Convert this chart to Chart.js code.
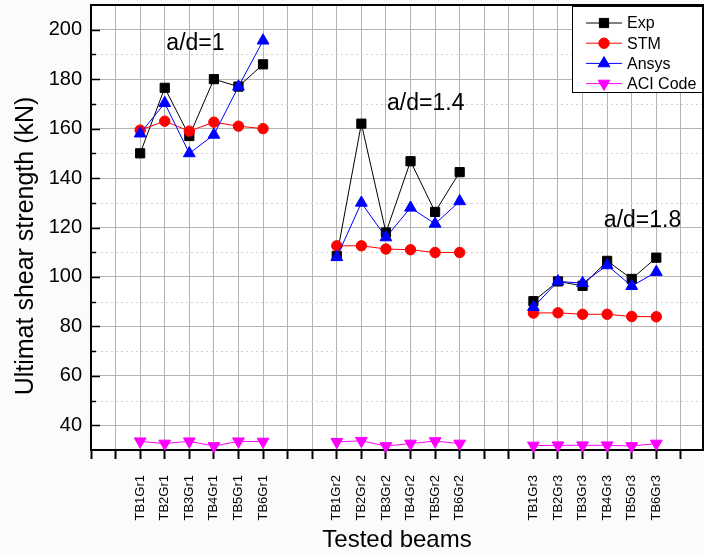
<!DOCTYPE html>
<html>
<head>
<meta charset="utf-8">
<script src="https://cdn.jsdelivr.net/npm/chart.js@4.4.0/dist/chart.umd.min.js"></script>
<style>
  html, body { margin: 0; padding: 0; background: #fbfbfb; }
  canvas { display: block; }
</style>
</head>
<body>
<canvas id="shearChart" width="704" height="556"></canvas>
<script>
// x slots: two empty positions before each group of six beams
const slots = [
    '', '', 'TB1Gr1', 'TB2Gr1', 'TB3Gr1', 'TB4Gr1', 'TB5Gr1', 'TB6Gr1',
    '', '', 'TB1Gr2', 'TB2Gr2', 'TB3Gr2', 'TB4Gr2', 'TB5Gr2', 'TB6Gr2',
    '', '', 'TB1Gr3', 'TB2Gr3', 'TB3Gr3', 'TB4Gr3', 'TB5Gr3', 'TB6Gr3', ''
];
const groups = [
    ['TB1Gr1', 'TB2Gr1', 'TB3Gr1', 'TB4Gr1', 'TB5Gr1', 'TB6Gr1'],
    ['TB1Gr2', 'TB2Gr2', 'TB3Gr2', 'TB4Gr2', 'TB5Gr2', 'TB6Gr2'],
    ['TB1Gr3', 'TB2Gr3', 'TB3Gr3', 'TB4Gr3', 'TB5Gr3', 'TB6Gr3']
];

// ultimate shear strength (kN), one value per beam in group order
const expValues   = [150, 176.5, 157, 180, 177, 186,   108.5, 162, 118, 146.8, 126.3, 142.4,   90.2, 98.2, 96.4, 106.5, 99.2, 107.8];
const stmValues   = [159.4, 163, 159, 162.6, 161, 160, 112.6, 112.6, 111.3, 111, 109.9, 109.9,  85.4, 85.5, 84.9, 84.9, 84, 83.9];
const ansysValues = [158, 170.3, 150, 157.5, 177, 195.6, 108, 130, 116, 128, 121.5, 130.6,    87.8, 98.2, 97.5, 104.7, 96.3, 102];
const aciValues   = [33.5, 32.6, 33.5, 31.6, 33.5, 33.4, 33.3, 33.7, 31.6, 32.6, 33.6, 32.6,    31.8, 31.9, 31.9, 31.9, 31.6, 32.6];

const yTicks = [40, 60, 80, 100, 120, 140, 160, 180, 200];
const groupNotes = ['a/d=1', 'a/d=1.4', 'a/d=1.8'];

const FONT = 'Arial, "Liberation Sans", sans-serif';
Chart.defaults.font.family = FONT;
Chart.defaults.color = '#000';

// turn a per-beam array into points, with a null between groups so lines break
function toPoints(values) {
    const pts = [];
    let k = 0;
    groups.forEach((g, gi) => {
        g.forEach(name => {
            pts.push({ x: slots.indexOf(name), y: values[k++] });
        });
        if (gi < groups.length - 1) pts.push({ x: slots.indexOf(g[g.length - 1]) + 1, y: null });
    });
    return pts;
}

function series(label, values, color, style, rotation, radius, order) {
    return {
        label: label,
        data: toPoints(values),
        borderColor: color,
        backgroundColor: color,
        borderWidth: 1,
        pointStyle: style,
        rotation: rotation,
        pointRadius: radius,
        pointBorderWidth: 1,
        tension: 0,
        spanGaps: false,
        clip: false,
        order: order
    };
}

// where the group notes sit, in data units
const notePos = [[4.25, 194.5], [13.62, 170.2], [22.44, 122.6]];

const originStyle = {
    id: 'originStyle',
    beforeDraw(chart) {
        const { ctx, chartArea: a } = chart;
        ctx.save();
        ctx.fillStyle = '#fff';
        ctx.fillRect(a.left, a.top, a.right - a.left, a.bottom - a.top);
        ctx.restore();
    },
    beforeDatasetsDraw(chart) {
        const { ctx, chartArea: a, scales: { y } } = chart;
        ctx.save();
        // dotted minor grid
        ctx.strokeStyle = '#d2d2d2';
        ctx.lineWidth = 1;
        ctx.setLineDash([2, 3]);
        for (let v = 50; v < 210; v += 20) {
            const py = Math.round(y.getPixelForValue(v)) + 0.5;
            ctx.beginPath();
            ctx.moveTo(a.left, py);
            ctx.lineTo(a.right, py);
            ctx.stroke();
        }
        ctx.setLineDash([]);
        // inward ticks on the left axis
        ctx.strokeStyle = '#000';
        ctx.lineWidth = 1.5;
        for (let v = 40; v <= 200; v += 10) {
            const py = Math.round(y.getPixelForValue(v)) + 0.5;
            ctx.beginPath();
            ctx.moveTo(a.left, py);
            ctx.lineTo(a.left + (v % 20 === 0 ? 9 : 5), py);
            ctx.stroke();
        }
        // frame top and right
        ctx.lineWidth = 2;
        ctx.beginPath();
        ctx.moveTo(a.left, a.top);
        ctx.lineTo(a.right, a.top);
        ctx.lineTo(a.right, a.bottom);
        ctx.stroke();
        ctx.restore();
    },
    afterDraw(chart) {
        const { ctx, chartArea: a, scales: { x, y } } = chart;
        ctx.save();
        // group notes
        ctx.font = '23px ' + FONT;
        ctx.fillStyle = '#000';
        ctx.textAlign = 'center';
        ctx.textBaseline = 'middle';
        groupNotes.forEach((t, i) => {
            ctx.fillText(t, x.getPixelForValue(notePos[i][0]), y.getPixelForValue(notePos[i][1]));
        });

        // axis titles
        ctx.font = '24px ' + FONT;
        ctx.textBaseline = 'alphabetic';
        ctx.fillText('Tested beams', (a.left + a.right) / 2, 547);
        ctx.save();
        ctx.translate(33, 246);
        ctx.rotate(-Math.PI / 2);
        ctx.font = '25px ' + FONT;
        ctx.fillText('Ultimat shear strength (kN)', 0, 0);
        ctx.restore();

        // legend box with line + marker samples
        const bx = 572, by = 6, bw = a.right - 572, bh = 87;
        ctx.fillStyle = '#fff';
        ctx.fillRect(bx, by, bw, bh);
        ctx.strokeStyle = '#000';
        ctx.lineWidth = 1;
        ctx.strokeRect(bx + 0.5, by + 0.5, bw - 1, bh - 1);
        ctx.font = '16px ' + FONT;
        ctx.textAlign = 'left';
        ctx.textBaseline = 'middle';
        chart.data.datasets.forEach((ds, i) => {
            const ry = 23 + i * 20.2;
            ctx.strokeStyle = ds.borderColor;
            ctx.lineWidth = 1;
            ctx.beginPath();
            ctx.moveTo(586, ry);
            ctx.lineTo(622, ry);
            ctx.stroke();
            ctx.fillStyle = ds.backgroundColor;
            Chart.helpers.drawPoint(ctx, {
                pointStyle: ds.pointStyle,
                radius: ds.pointRadius,
                rotation: ds.rotation,
                borderWidth: 1
            }, 604, ry);
            ctx.fillStyle = '#000';
            ctx.fillText(ds.label, 627, ry + 1);
        });
        ctx.restore();
    }
};

function noScalePadding(scale) {
    scale.paddingTop = 0;
    scale.paddingBottom = 0;
    scale.paddingLeft = 0;
    scale.paddingRight = 0;
}

new Chart(document.getElementById('shearChart'), {
    type: 'line',
    data: {
        datasets: [
            series('Exp', expValues, '#000000', 'rect', 0, 6.5, 4),
            series('STM', stmValues, '#ff0000', 'circle', 0, 5.2, 3),
            series('Ansys', ansysValues, '#0000ff', 'triangle', 0, 6.8, 2),
            series('ACI Code', aciValues, '#ff00ff', 'triangle', 180, 6.8, 1)
        ]
    },
    options: {
        responsive: false,
        animation: false,
        layout: { autoPadding: false, padding: { left: 0, top: 5, right: 1, bottom: 0 } },
        plugins: { legend: { display: false }, tooltip: { enabled: false } },
        scales: {
            x: {
                type: 'linear',
                min: 0,
                max: 24.9,
                afterFit(scale) { scale.height = 106; noScalePadding(scale); },
                ticks: {
                    stepSize: 1,
                    includeBounds: false,
                    autoSkip: false,
                    maxRotation: 90,
                    minRotation: 90,
                    padding: 16,
                    font: { size: 13 },
                    callback: v => slots[v] || ''
                },
                grid: {
                    color: '#b4b4b4',
                    lineWidth: 1,
                    drawTicks: true,
                    tickLength: 9,
                    tickColor: '#000',
                    tickWidth: 2
                },
                border: { color: '#000', width: 2 }
            },
            y: {
                min: 30,
                max: 210,
                afterFit(scale) { scale.width = 91; noScalePadding(scale); },
                ticks: {
                    stepSize: 10,
                    autoSkip: false,
                    padding: 9,
                    font: { size: 20 },
                    callback: v => yTicks.includes(v) ? String(v) : ''
                },
                grid: {
                    color: c => (c.tick && yTicks.includes(c.tick.value)) ? '#b4b4b4' : 'transparent',
                    drawTicks: false
                },
                border: { color: '#000', width: 2 }
            }
        }
    },
    plugins: [originStyle]
});
</script>
</body>
</html>
